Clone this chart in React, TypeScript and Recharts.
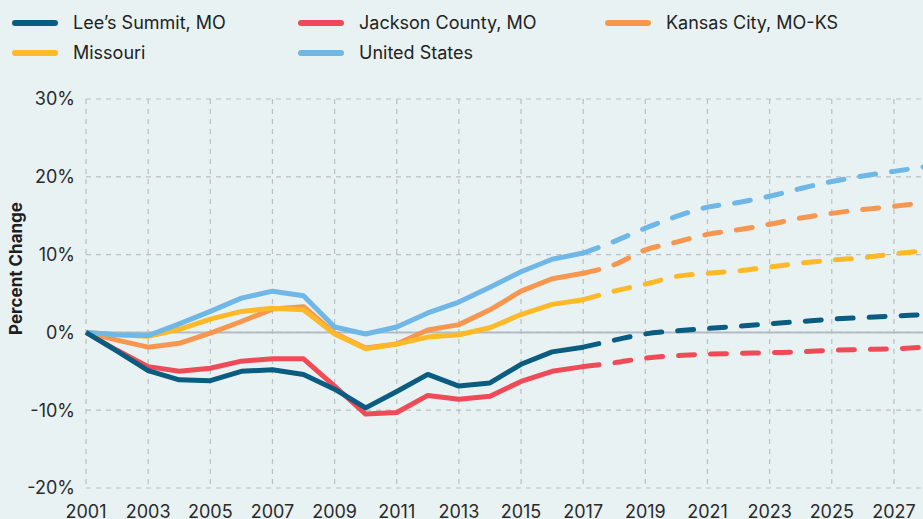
import React from 'react';
import { LineChart, Line, XAxis, YAxis, CartesianGrid, ReferenceLine, Label } from 'recharts';

const historicalYears = [2001, 2002, 2003, 2004, 2005, 2006, 2007, 2008, 2009, 2010, 2011, 2012, 2013, 2014, 2015, 2016, 2017];
const projectionYears = [2017, 2018, 2019, 2020, 2021, 2022, 2023, 2024, 2025, 2026, 2027, 2028];

const leesSummitHist = [0, -2.4, -4.9, -6.1, -6.2, -5.0, -4.8, -5.4, -7.3, -9.7, -7.6, -5.4, -6.9, -6.5, -4.1, -2.5, -1.9];
const leesSummitProj = [-1.9, -1.0, -0.2, 0.2, 0.5, 0.8, 1.1, 1.4, 1.7, 1.9, 2.1, 2.3];

const jacksonHist = [0, -2.3, -4.4, -5.0, -4.6, -3.7, -3.4, -3.4, -6.9, -10.5, -10.3, -8.1, -8.6, -8.2, -6.3, -5.0, -4.4];
const jacksonProj = [-4.4, -3.9, -3.3, -3.0, -2.8, -2.7, -2.6, -2.5, -2.3, -2.2, -2.1, -1.9];

const kansasCityHist = [0, -1.0, -1.9, -1.4, -0.1, 1.4, 3.0, 3.3, -0.1, -2.0, -1.5, 0.3, 1.0, 2.9, 5.3, 6.9, 7.6];
const kansasCityProj = [7.6, 8.7, 10.6, 11.6, 12.6, 13.2, 13.9, 14.7, 15.3, 15.8, 16.2, 16.7];

const missouriHist = [0, -0.3, -0.5, 0.4, 1.7, 2.7, 3.1, 2.9, -0.2, -2.1, -1.5, -0.6, -0.3, 0.6, 2.3, 3.6, 4.2];
const missouriProj = [4.2, 5.3, 6.2, 7.2, 7.6, 7.9, 8.4, 8.9, 9.3, 9.6, 10.1, 10.5];

const usHist = [0, -0.3, -0.4, 1.1, 2.7, 4.4, 5.3, 4.7, 0.7, -0.2, 0.7, 2.5, 3.9, 5.8, 7.8, 9.4, 10.2];
const usProj = [10.2, 11.7, 13.4, 14.9, 16.1, 16.7, 17.5, 18.5, 19.4, 20.1, 20.7, 21.3];

const xTicks = [2001, 2003, 2005, 2007, 2009, 2011, 2013, 2015, 2017, 2019, 2021, 2023, 2025, 2027];
const yTicks = [-20, -10, 0, 10, 20, 30];

const series = [
  { key: 'lees', name: 'Lee\u2019s Summit, MO', color: '#0a5c80', hist: leesSummitHist, proj: leesSummitProj },
  { key: 'jackson', name: 'Jackson County, MO', color: '#ef4b57', hist: jacksonHist, proj: jacksonProj },
  { key: 'kc', name: 'Kansas City, MO-KS', color: '#f7964e', hist: kansasCityHist, proj: kansasCityProj },
  { key: 'mo', name: 'Missouri', color: '#fdb928', hist: missouriHist, proj: missouriProj },
  { key: 'us', name: 'United States', color: '#6fb7e6', hist: usHist, proj: usProj },
];

const drawOrder = ['jackson', 'kc', 'mo', 'us', 'lees'];

const allYears = Array.from(new Set([...historicalYears, ...projectionYears])).sort((a, b) => a - b);
const data = allYears.map((year) => {
  const row: Record<string, number> = { year };
  series.forEach((s) => {
    const hi = historicalYears.indexOf(year);
    if (hi >= 0) row[s.key + '_h'] = s.hist[hi];
    const pi = projectionYears.indexOf(year);
    if (pi >= 0) row[s.key + '_p'] = s.proj[pi];
  });
  return row;
});

const FONT = 'Inter, "Noto Sans", sans-serif';
const BG = '#e9f2f3';
const legendCols = [286, 307, 260];

export default function App() {
  const ordered = drawOrder.map((k) => series.find((s) => s.key === k)!);
  return (
    <div style={{ position: 'absolute', left: 0, top: 0, width: 923, height: 519, overflow: 'hidden', background: BG, fontFamily: FONT }}>
      <div style={{ position: 'absolute', left: 12, top: 11, display: 'grid', gridTemplateColumns: legendCols.map((c) => c + 'px').join(' '), rowGap: 7 }}>
        {series.map((s) => (
          <div key={s.key} style={{ display: 'flex', alignItems: 'center', height: 23 }}>
            <div style={{ width: 46, height: 6, borderRadius: 3, background: s.color }} />
            <span style={{ marginLeft: 15, fontSize: 18, color: '#222', whiteSpace: 'nowrap' }}>{s.name}</span>
          </div>
        ))}
      </div>
      <div style={{ position: 'absolute', left: 0, top: 0 }}>
        <LineChart width={925} height={530} data={data} margin={{ top: 99, right: 0, bottom: 0, left: 26 }}>
          <CartesianGrid stroke="#b8bfc6" strokeDasharray="5 5" strokeWidth={1.2} />
          <XAxis
            dataKey="year"
            type="number"
            domain={[2001, 2028]}
            ticks={xTicks}
            axisLine={false}
            tickLine={false}
            tickMargin={11}
            height={42}
            interval={0}
            tick={{ fill: '#2a2a2a', fontSize: 18, fontFamily: FONT }}
          />
          <YAxis
            type="number"
            domain={[-20, 30]}
            ticks={yTicks}
            axisLine={false}
            tickLine={false}
            tickMargin={5}
            width={60}
            tickFormatter={(v: number) => `${v}%`}
            tick={{ fill: '#2a2a2a', fontSize: 18, fontFamily: FONT }}
          >
            <Label
              content={(props: any) => {
                const vb = props.viewBox || {};
                const cx = 16;
                const cy = (vb.y ?? 99) + (vb.height ?? 389) / 2 - 25;
                return (
                  <text
                    x={cx}
                    y={cy}
                    transform={`rotate(-90, ${cx}, ${cy})`}
                    textAnchor="middle"
                    dominantBaseline="central"
                    fontFamily={FONT}
                    fontSize={17}
                    fontWeight={700}
                    fill="#1e1e1e"
                  >
                    Percent Change
                  </text>
                );
              }}
            />
          </YAxis>
          <ReferenceLine y={0} stroke="#b3bcc4" strokeWidth={2} />
          {ordered.map((s) => (
            <Line
              key={s.key + '_p'}
              dataKey={s.key + '_p'}
              type="monotone"
              stroke={s.color}
              strokeWidth={5}
              strokeDasharray="16 16"
              strokeLinecap="round"
              dot={false}
              activeDot={false}
              isAnimationActive={false}
            />
          ))}
          {ordered.map((s) => (
            <Line
              key={s.key + '_h'}
              dataKey={s.key + '_h'}
              type="linear"
              stroke={s.color}
              strokeWidth={5}
              strokeLinejoin="round"
              dot={false}
              activeDot={false}
              isAnimationActive={false}
            />
          ))}
        </LineChart>
      </div>
    </div>
  );
}
